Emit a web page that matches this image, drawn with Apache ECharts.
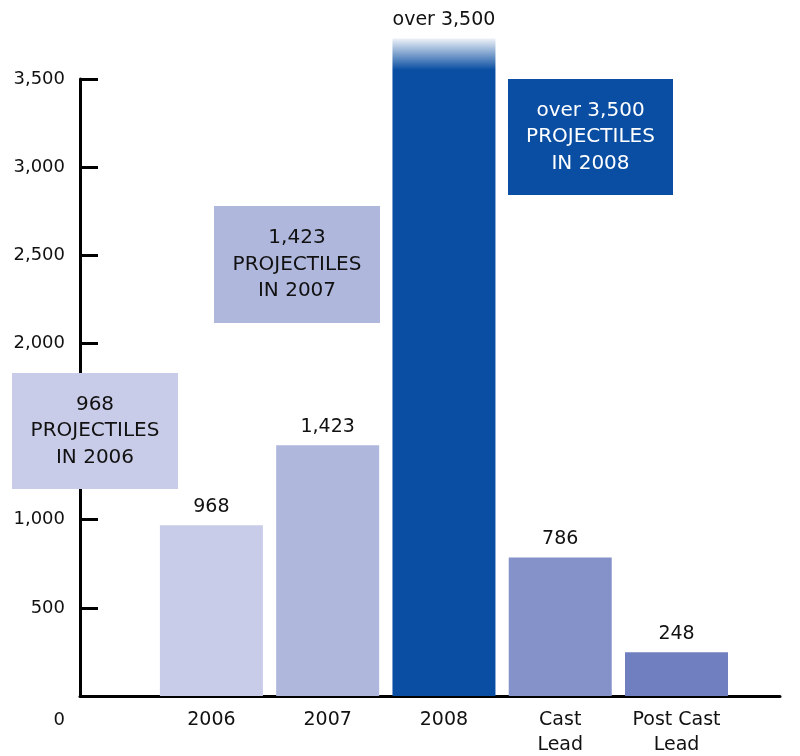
<!DOCTYPE html>
<html>
<head>
<meta charset="utf-8">
<script src="https://cdn.jsdelivr.net/npm/echarts@6/dist/echarts.min.js"></script>
<style>html,body{margin:0;padding:0;background:#fff}#c{width:800px;height:756px}</style>
</head>
<body>
<div id="c"></div>
<script>
var categories = ['2006', '2007', '2008', 'Cast\nLead', 'Post Cast\nLead'];
var values = [968, 1423, 3730, 786, 248];
var valueLabels = ['968', '1,423', 'over 3,500', '786', '248'];
var barColors = ['#c9cce9', '#afb7dc', '#094ea2', '#8592c9', '#6f7fbf'];
var boxTexts = [
  '968\nPROJECTILES\nIN 2006',
  '1,423\nPROJECTILES\nIN 2007',
  'over 3,500\nPROJECTILES\nIN 2008'
];
var boxColors = ['#c9cce9', '#afb7dc', '#094ea2'];
var boxTextColors = ['#111', '#111', '#fff'];

var FONT = 'DejaVu Sans';
var chart = echarts.init(document.getElementById('c'));

var data = values.map(function (v, i) {
  var c = barColors[i];
  if (i === 2) {
    c = new echarts.graphic.LinearGradient(0, 0, 0, 1, [
      { offset: 0, color: '#eef2f8' },
      { offset: 0.048, color: '#094ea2' },
      { offset: 1, color: '#094ea2' }
    ]);
  }
  return { value: [i, v], itemStyle: { color: c } };
});

var boxLayout = [
  { x: 12, y: 373, w: 166, h: 116 },
  { x: 214, y: 206, w: 166, h: 117 },
  { x: 508, y: 79, w: 165, h: 116 }
];
var graphics = [];
boxTexts.forEach(function (t, i) {
  var b = boxLayout[i];
  graphics.push({ type: 'rect', z: 100, zlevel: 1, shape: { x: b.x, y: b.y, width: b.w, height: b.h }, style: { fill: boxColors[i] } });
  graphics.push({ type: 'text', z: 101, zlevel: 1, x: b.x + b.w / 2, y: b.y + b.h / 2, style: {
      text: t, fill: boxTextColors[i], font: '20px "' + FONT + '"',
      align: 'center', verticalAlign: 'middle', lineHeight: 26.5
  } });
});

chart.setOption({
  animation: false,
  textStyle: { fontFamily: FONT },
  grid: { left: 80, right: 20, top: 79, bottom: 60, containLabel: false, outerBoundsMode: 'none' },
  xAxis: {
    type: 'value', min: -1.13, max: 4.89,
    splitLine: { show: false },
    axisTick: { show: false },
    axisLine: { show: true, onZero: false, lineStyle: { color: '#000', width: 3 } },
    axisLabel: {
      customValues: [0, 1, 2, 3, 4],
      formatter: function (v) { return categories[Math.round(v)]; },
      color: '#111', fontSize: 19, fontFamily: FONT, margin: 12, lineHeight: 25,
      verticalAlign: 'top'
    }
  },
  yAxis: {
    type: 'value', min: 0, max: 3500, interval: 500,
    splitLine: { show: false },
    axisLine: { show: true, onZero: false, lineStyle: { color: '#000', width: 3 } },
    axisTick: { show: true, inside: true, length: 18, lineStyle: { color: '#000', width: 3 } },
    axisLabel: {
      color: '#111', fontSize: 18, fontFamily: FONT, margin: 15,
      formatter: function (v) {
        if (v === 0) return '{z|0}';
        return v.toLocaleString('en-US');
      },
      rich: { z: { fontSize: 18, fontFamily: FONT, color: '#111', padding: [48, 0, 0, 0] } }
    }
  },
  series: [{
    type: 'bar', barWidth: 103, clip: false, data: data,
    label: {
      show: true, position: 'top', distance: 9, color: '#111', fontSize: 19, fontFamily: FONT,
      formatter: function (p) { return valueLabels[p.dataIndex]; }
    }
  }],
  graphic: graphics
});
</script>
</body>
</html>
